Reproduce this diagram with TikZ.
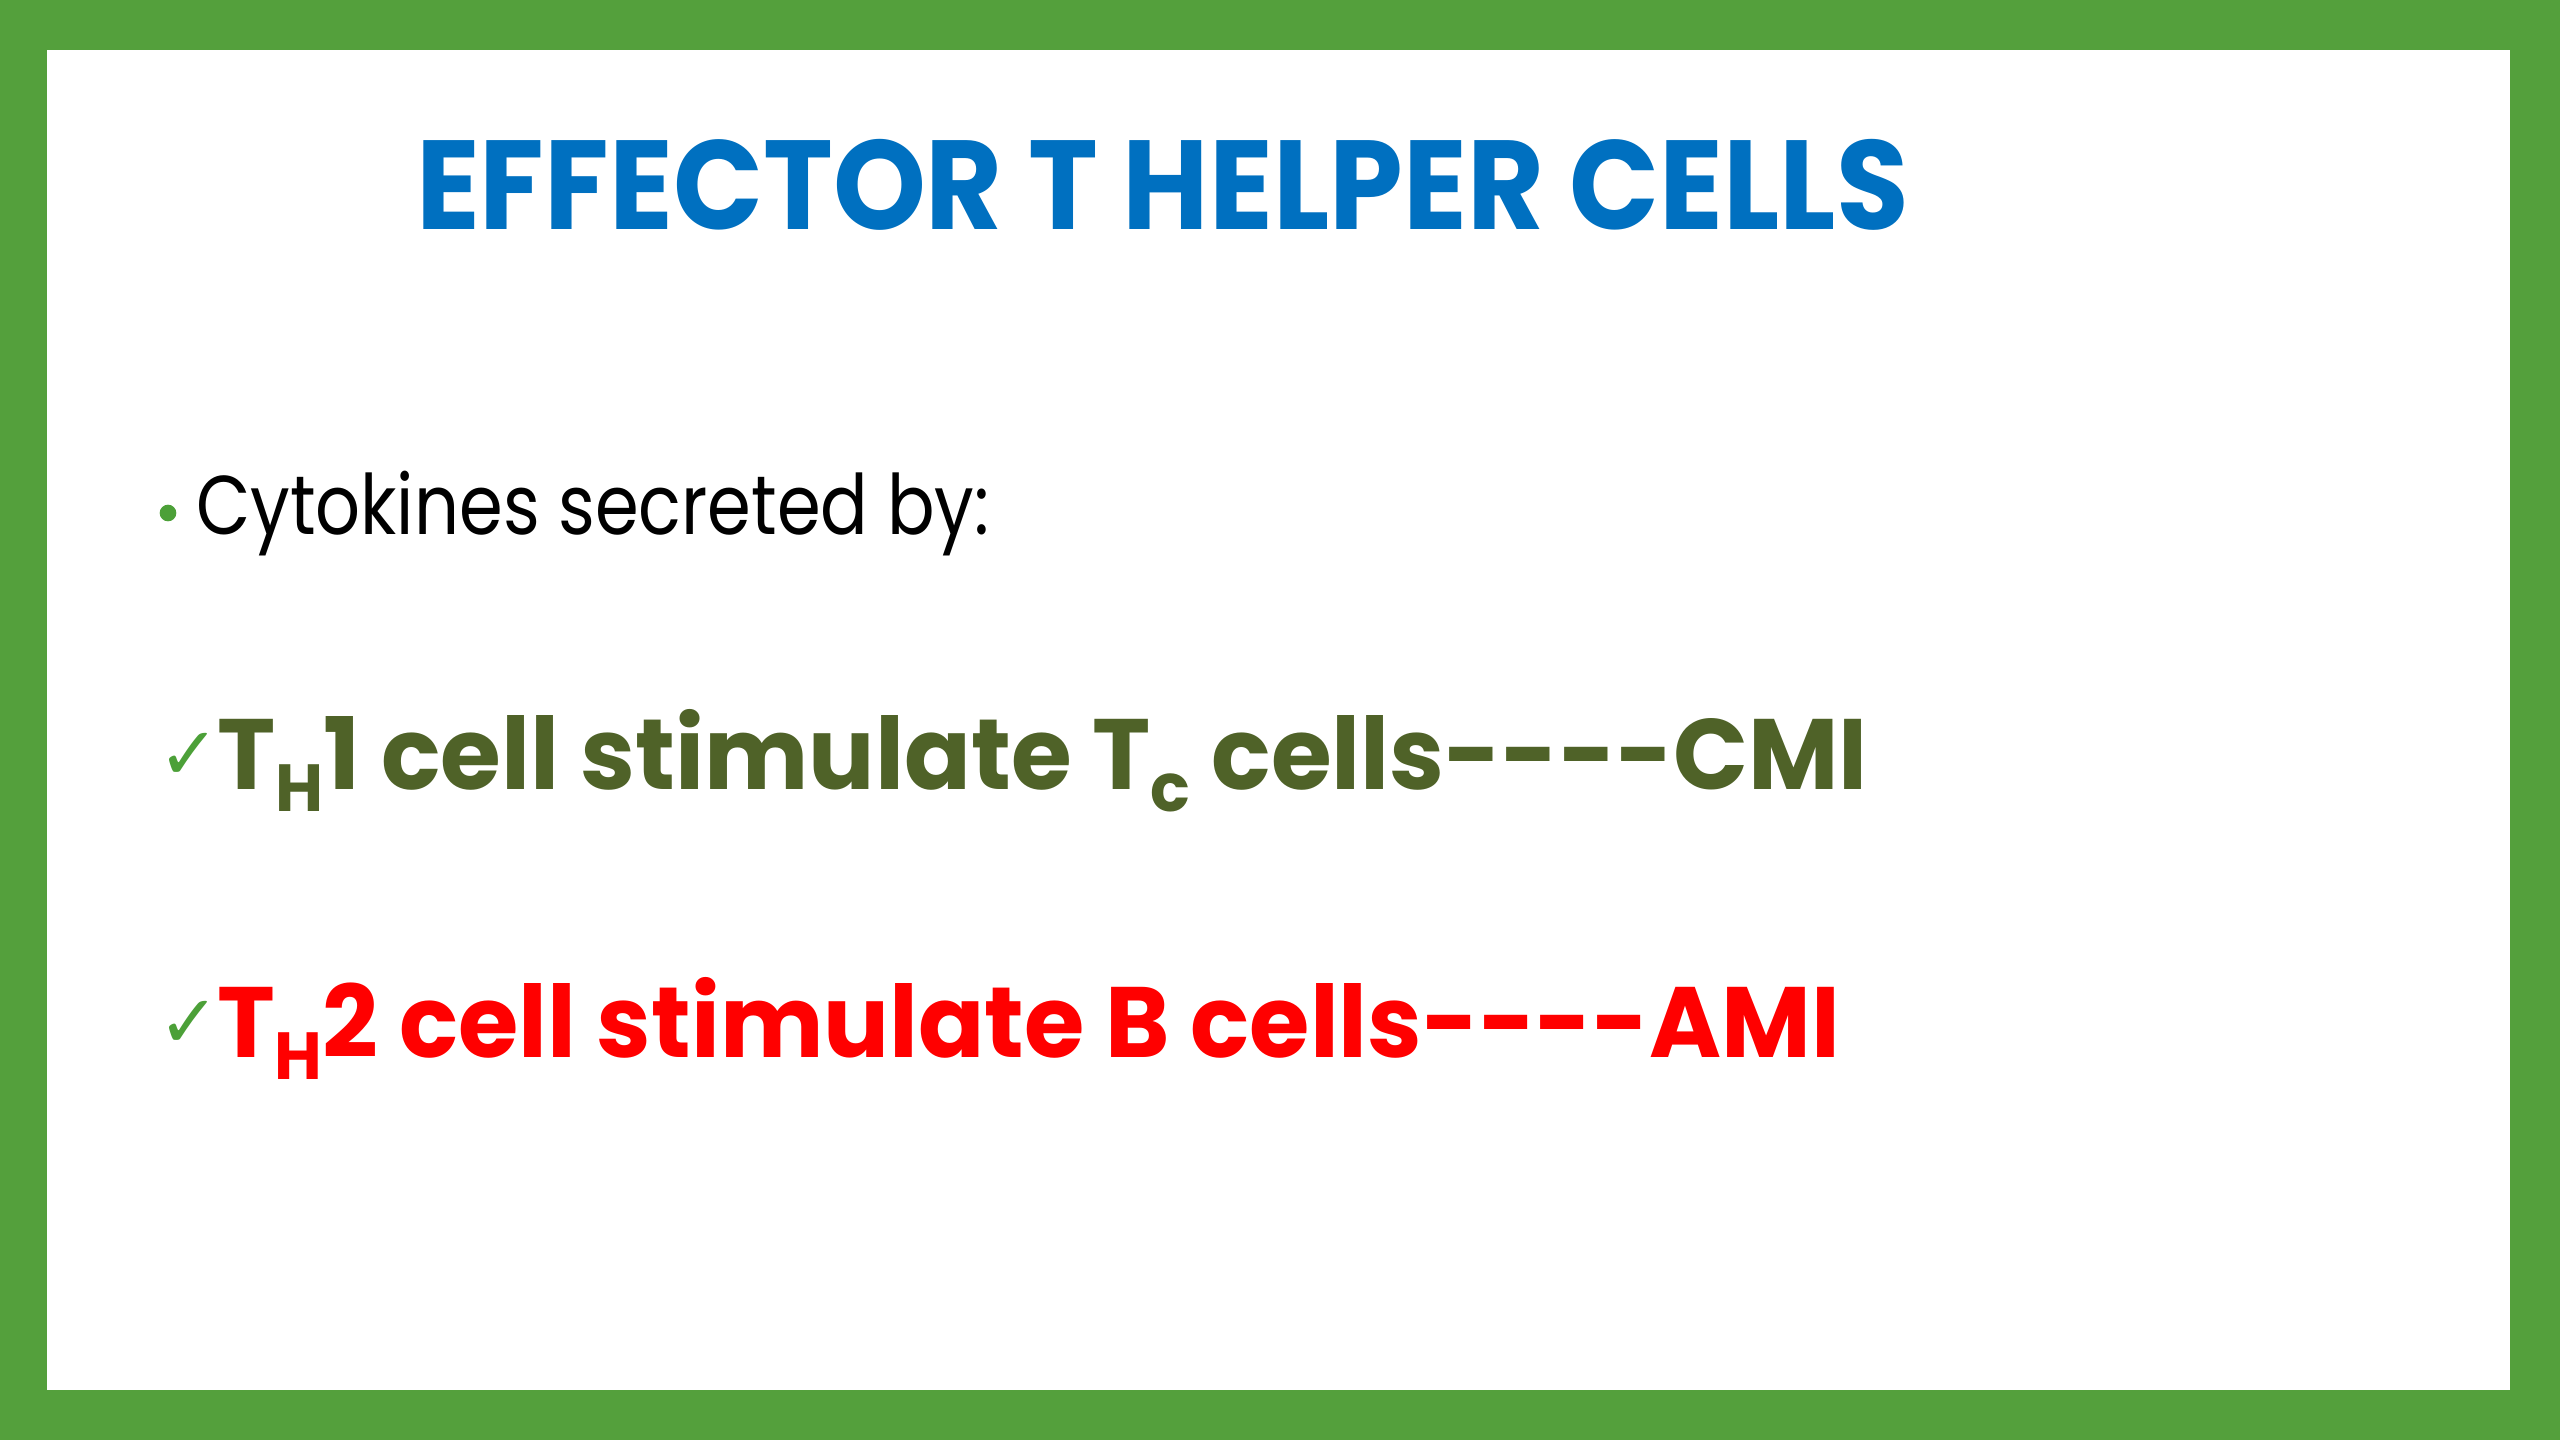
\documentclass[tikz,border=0pt]{standalone}
\usepackage{fontspec}
\setmainfont{Poppins}
\newfontfamily\symfont{DejaVu Sans}
\definecolor{framegreen}{RGB}{84,160,60}
\definecolor{titleblue}{RGB}{0,112,192}
\definecolor{olivetxt}{RGB}{79,98,40}
\definecolor{redtxt}{RGB}{255,0,0}
\definecolor{checkgreen}{RGB}{76,160,56}
\newcommand{\lowsub}[1]{\raisebox{-6.6pt}{\fontsize{20}{20}\selectfont #1}}
\begin{document}
\begin{tikzpicture}[x=0.3pt,y=-0.3pt,
  txt/.style={inner sep=0pt, outer sep=0pt, anchor=base west},
  checkmark/.style={inner sep=0pt, outer sep=0pt, anchor=base west, text=checkgreen, font=\symfont\fontsize{22}{22}\selectfont},
  linetxt/.style={txt, font=\fontsize{30}{32}\selectfont\bfseries}]
\fill[framegreen] (0,0) rectangle (2560,1440);
\fill[white] (47,50) rectangle (2510,1390);
\useasboundingbox (0,0) rectangle (2560,1440);
\node[txt, text=titleblue, font=\fontsize{38}{40}\selectfont\bfseries] (title) at (416,229) {\scalebox{0.933}[1]{EFFECTOR T HELPER CELLS}};
\node[circle, fill=checkgreen, inner sep=0pt, minimum size=5pt] (bullet) at (168,513) {};
\node[txt, text=black, font=\fontsize{25}{27}\selectfont] (cyto) at (196,534) {\scalebox{0.845}[1]{Cytokines secreted by:}};
\node[checkmark] (check1) at (158,779) {✓};
\node[linetxt, text=olivetxt] (th1) at (217,789) {\scalebox{0.985}[1]{T\lowsub{H}1 cell stimulate T\lowsub{c} cells-{}-{}-{}-CMI}};
\node[checkmark] (check2) at (158,1047) {✓};
\node[linetxt, text=redtxt] (th2) at (217,1057) {\scalebox{0.978}[1]{T\lowsub{H}2 cell stimulate B cells-{}-{}-{}-AMI}};
\end{tikzpicture}
\end{document}
